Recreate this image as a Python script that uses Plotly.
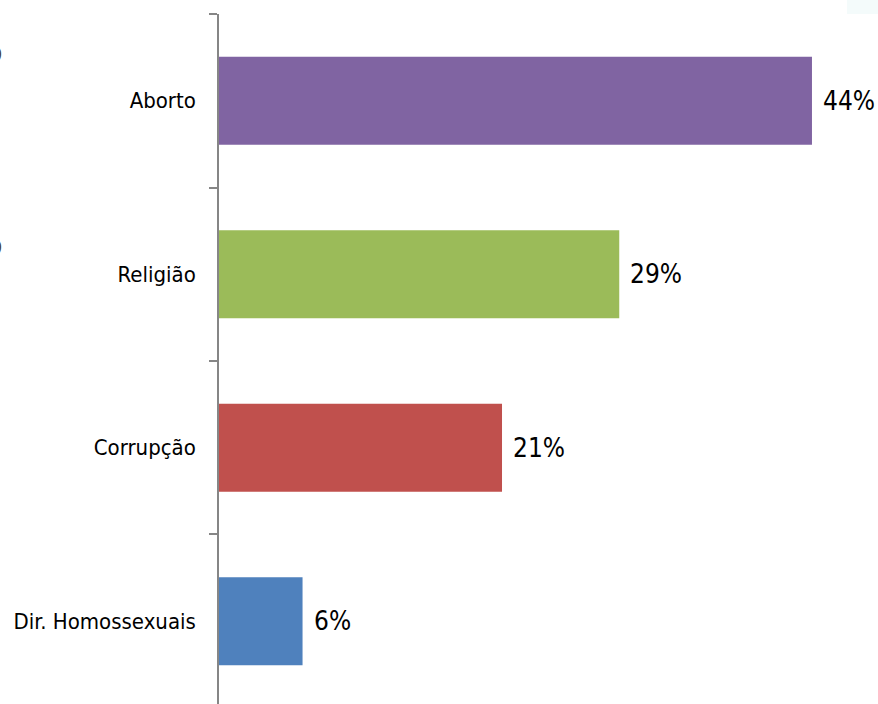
import plotly.graph_objects as go

categories = ["Dir. Homossexuais", "Corrupção", "Religião", "Aborto"]
values = [6.2, 21.0, 29.7, 44.0]
labels = ["6%", "21%", "29%", "44%"]
colors = ["#4F81BD", "#C0504D", "#9BBB59", "#8064A2"]

FONT = "DejaVu Sans Condensed, Liberation Sans Narrow, sans-serif"

fig = go.Figure(
    go.Bar(
        y=categories,
        x=values,
        orientation="h",
        marker=dict(color=colors, line=dict(width=0)),
        width=0.507,
        hoverinfo="skip",
    )
)

for c, v, t in zip(categories, values, labels):
    fig.add_annotation(
        x=v, y=c, text=t, showarrow=False, xanchor="left", yanchor="middle",
        xshift=9, font=dict(family=FONT, size=26, color="#000000"),
    )

# cropped glyph fragments on the left edge
for yp in [52, 245]:
    fig.add_annotation(
        x=0, y=1, xref="paper", yref="paper", text="o",
        showarrow=False, xanchor="right", yanchor="middle",
        xshift=-219 + 4, yshift=14 - yp,
        font=dict(family=FONT, size=28, color="#4a4530"),
    )

# faint tint in the top-right corner
fig.add_shape(
    type="rect", xref="paper", yref="paper",
    x0=(847 - 219) / 659, x1=1.0, y0=1.0, y1=1.0 + 15 / 690,
    fillcolor="#f4fbfb", line=dict(width=0), layer="below",
)

fig.update_layout(
    width=878,
    height=704,
    margin=dict(l=219, r=0, t=14, b=0, pad=0),
    paper_bgcolor="white",
    plot_bgcolor="white",
    showlegend=False,
    font=dict(family=FONT, size=22, color="#000000"),
    xaxis=dict(
        range=[0, 48.9], visible=False, showgrid=False, zeroline=False,
    ),
    yaxis=dict(
        type="category",
        categoryorder="array",
        categoryarray=categories,
        range=[-0.477, 3.5],
        tickson="boundaries",
        ticks="outside",
        ticklen=8,
        tickwidth=1.5,
        tickcolor="#868686",
        showline=True,
        linecolor="#868686",
        linewidth=1.5,
        showgrid=False,
        zeroline=False,
        automargin=False,
        ticklabelstandoff=17,
        tickfont=dict(family=FONT, size=22, color="#000000"),
    ),
)

fig.write_html(
    "out.html",
    config={"displayModeBar": False},
    post_script="document.body.style.margin='0';document.body.style.overflow='hidden';",
)
